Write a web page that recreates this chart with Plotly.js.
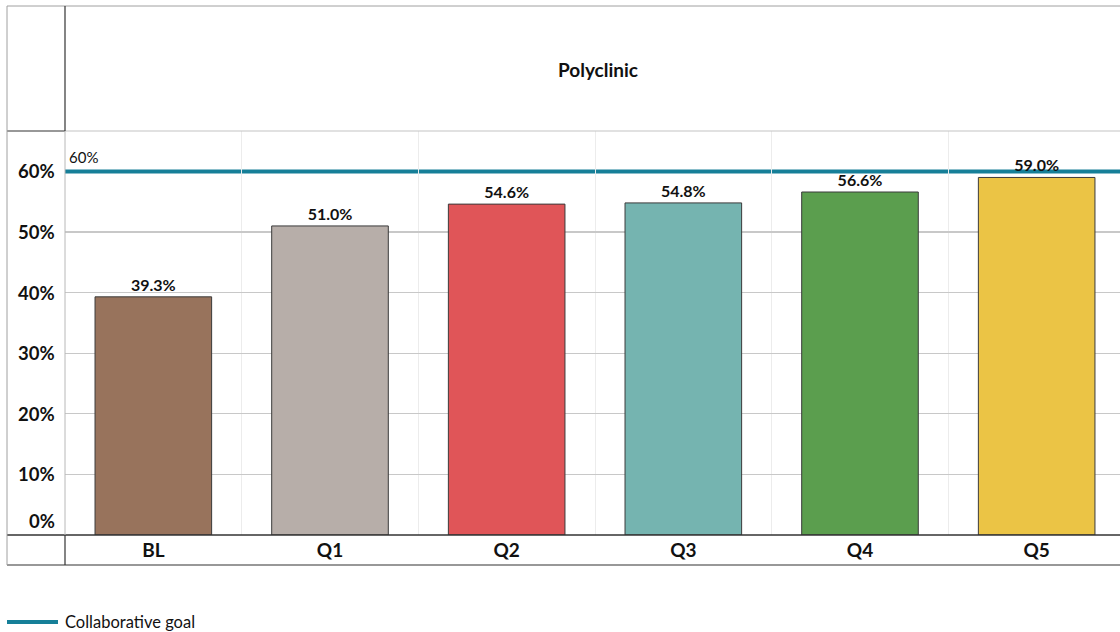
<!DOCTYPE html>
<html><head><meta charset="utf-8">
<script src="https://cdn.plot.ly/plotly-3.0.1.min.js"></script>
<style>html,body{margin:0;padding:0;background:#fff;overflow:hidden}</style>
</head><body>
<div id="chart" style="width:1120px;height:632px"></div>
<script>
const categories = ['BL', 'Q1', 'Q2', 'Q3', 'Q4', 'Q5'];
const values = [39.3, 51.0, 54.6, 54.8, 56.6, 59.0];
const barColors = ['#98735c', '#b7aea9', '#e05558', '#75b4b0', '#5b9e4e', '#ebc445'];
const goalValue = 60;
const goalName = 'Collaborative goal';
const yTickVals = [0, 10, 20, 30, 40, 50, 60];
const yTickText = ['0%', '10%', '20%', '30%', '40%', '50%', '60%'];
const chartTitle = 'Polyclinic';

const W = 1120, H = 632;
const L = 65, R = 1120, T = 131, B = 535;
const px = x => (x - L) / (R - L);
const py = y => (B - y) / (B - T);
const FONT = 'Lato, "Open Sans", sans-serif';
const GOAL_COLOR = '#167f98';

const bar = {
  type: 'bar', x: categories, y: values,
  marker: {color: barColors, line: {color: '#3a3a3a', width: 1}},
  width: 0.66,
  text: values.map(v => v.toFixed(1) + '%'),
  textposition: 'outside', cliponaxis: false,
  textfont: {family: FONT, size: 16, color: '#111', weight: 'bold'},
  hoverinfo: 'x+y', showlegend: false
};

function hline(x0, x1, y, color, width) {
  return {type: 'line', xref: 'paper', yref: 'paper', x0: px(x0), x1: px(x1), y0: py(y), y1: py(y), line: {color, width}, layer: 'above'};
}
function vline(x, y0, y1, color, width) {
  return {type: 'line', xref: 'paper', yref: 'paper', x0: px(x), x1: px(x), y0: py(y0), y1: py(y1), line: {color, width}, layer: 'above'};
}

const shapes = [
  {type: 'line', xref: 'paper', yref: 'y', x0: 0, x1: 1, y0: goalValue, y1: goalValue, line: {color: GOAL_COLOR, width: 4}, layer: 'below'},
  hline(7, 1120, 6, '#a0a0a0', 1),
  hline(7, 65, 131, '#333', 1.2),
  hline(65, 1120, 131, '#c4c4c4', 1.2),
  hline(7, 1120, 535, '#333', 1.5),
  hline(7, 1120, 565, '#333', 1.2),
  vline(7, 6, 565, '#a0a0a0', 1),
  vline(65, 6, 131, '#333', 1.2),
  vline(65, 131, 535, '#b8b8b8', 1),
  vline(65, 535, 565, '#333', 1.2),
  // legend sample
  hline(7, 58, 622, GOAL_COLOR, 4)
];

const annotations = yTickVals.map((v, i) => ({
  xref: 'paper', yref: 'y', x: 0, y: v, xshift: -8, yshift: v === 0 ? 14 : 0,
  xanchor: 'right', yanchor: 'middle', showarrow: false, text: yTickText[i],
  font: {family: FONT, size: 18.5, color: '#111', weight: 'bold'}
}));
annotations.push({
  xref: 'paper', yref: 'y', x: 0, y: goalValue, xshift: 2, yshift: 3,
  xanchor: 'left', yanchor: 'bottom', showarrow: false, text: goalValue + '%',
  font: {family: FONT, size: 15, color: '#111'}
});
annotations.push({
  xref: 'paper', yref: 'paper', x: px(63), y: py(622), xanchor: 'left', yanchor: 'middle',
  showarrow: false, text: goalName, font: {family: FONT, size: 16.5, color: '#111'}
});

const layout = {
  width: W, height: H,
  margin: {l: L, r: W - R, t: T, b: H - B, pad: 0},
  paper_bgcolor: '#fff', plot_bgcolor: '#fff',
  font: {family: FONT},
  title: {text: chartTitle, x: 598 / W, xanchor: 'center', y: 1 - 70 / H, yanchor: 'middle',
          font: {family: FONT, size: 19, color: '#111', weight: 'bold'}},
  showlegend: false,
  xaxis: {
    type: 'category', range: [-0.5, 5.5 - 5 / 177], tickson: 'boundaries',
    showgrid: true, gridcolor: '#ececec', gridwidth: 1, ticks: '', zeroline: false, showline: false,
    tickfont: {family: FONT, size: 19, color: '#111', weight: 'bold'}, ticklabelstandoff: 2,
    fixedrange: true
  },
  yaxis: {
    range: [0, (B - T) / 60.6 * 10], tickvals: yTickVals.filter(v => v > 0 && v < goalValue), showticklabels: false,
    showgrid: true, gridcolor: '#c8c8c8', gridwidth: 1.2, zeroline: false, showline: false, ticks: '',
    fixedrange: true
  },
  shapes, annotations
};

Plotly.newPlot('chart', [bar], layout, {displayModeBar: false, staticPlot: true});
</script>
</body></html>
